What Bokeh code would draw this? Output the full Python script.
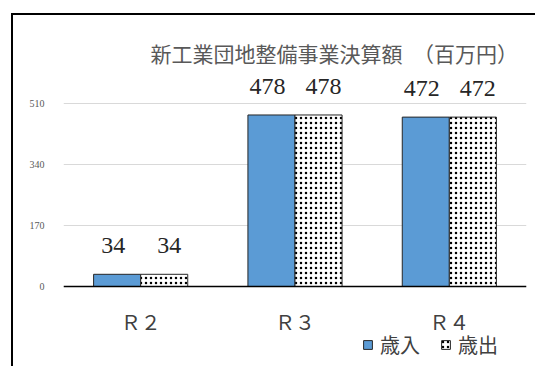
from bokeh.plotting import figure
from bokeh.models import ColumnDataSource, FactorRange, Range1d, FixedTicker, Legend, LegendItem, Span
from bokeh.transform import dodge
from bokeh.embed import file_html
from bokeh.resources import INLINE
from bokeh.core.properties import value

categories = ["Ｒ２", "Ｒ３", "Ｒ４"]
revenue = [34, 478, 472]       # 歳入
expenditure = [34, 478, 472]   # 歳出
series_names = ["歳入", "歳出"]
y_ticks = [0, 170, 340, 510]
title_text = "新工業団地整備事業決算額　（百万円）"

src = ColumnDataSource(dict(
    cat=categories, rev=revenue, exp=expenditure, base=[0] * len(categories),
    rev_lbl=[str(v) for v in revenue], exp_lbl=[str(v) for v in expenditure]))

# frame spans from just under the title down to the bottom edge; value 0 sits at the baseline
p = figure(x_range=FactorRange(factors=categories, range_padding=0),
           y_range=Range1d(-228.5, 607.5),
           width=524, height=353, output_backend="svg", toolbar_location=None,
           title=title_text, x_axis_location=None,
           min_border_left=50, min_border_right=11, min_border_top=53, min_border_bottom=0)
p.styles = {"border-left": "2px solid black", "border-top": "2px solid black",
            "border-right": "0px none", "border-bottom": "0px none"}
p.margin = (13, 0, 0, 11)

bw = 0.305
r1 = p.vbar(x=dodge("cat", -bw / 2, range=p.x_range), top="rev", width=bw, source=src,
            fill_color="#5b9bd5", line_color="#262626", line_width=1)
r2 = p.vbar(x=dodge("cat", bw / 2, range=p.x_range), top="exp", width=bw, source=src,
            fill_color="white", line_color="#262626", line_width=1,
            hatch_pattern=".", hatch_color="black", hatch_scale=5, hatch_weight=1.6)

for col, lbl, off, xo in (("rev", "rev_lbl", -bw / 2, -4), ("exp", "exp_lbl", bw / 2, 5)):
    p.text(x=dodge("cat", off, range=p.x_range), y=col, text=lbl, source=src,
           text_align="center", text_baseline="bottom", y_offset=-21, x_offset=xo,
           text_font=value("Liberation Serif"), text_font_size="24px", text_color="#262626")

# category labels under the baseline
p.text(x="cat", y="base", text="cat", source=src, text_align="center", text_baseline="middle",
       y_offset=35, text_font=value("Noto Sans CJK JP"), text_font_size="20px",
       text_color="#404040")

# baseline (category axis line)
p.add_layout(Span(location=0, dimension="width", line_color="black", line_width=1.5))

p.title.text_font = "Noto Sans CJK JP"
p.title.text_font_size = "21px"
p.title.text_font_style = "normal"
p.title.text_color = "#595959"
p.title.align = "left"
p.title.offset = 87
p.title.standoff = 1

p.outline_line_color = None
p.xgrid.grid_line_color = None
p.ygrid.ticker = FixedTicker(ticks=y_ticks)
p.ygrid.grid_line_color = "#d9d9d9"
p.ygrid.grid_line_width = 1

p.yaxis.ticker = FixedTicker(ticks=y_ticks)
p.yaxis.axis_line_color = None
p.yaxis.major_tick_line_color = None
p.yaxis.minor_tick_line_color = None
p.yaxis.major_label_text_font = "Liberation Serif"
p.yaxis.major_label_text_font_size = "10px"
p.yaxis.major_label_text_color = "#595959"
p.yaxis.major_label_standoff = 13

legend = Legend(items=[LegendItem(label=series_names[0], renderers=[r1]),
                       LegendItem(label=series_names[1], renderers=[r2])],
                orientation="horizontal", location=(299, 9),
                border_line_color=None, background_fill_alpha=0,
                padding=0, margin=0, spacing=20, glyph_width=11, glyph_height=11,
                label_standoff=7, label_text_font="Noto Sans CJK JP",
                label_text_font_size="20px", label_text_color="#404040")
p.add_layout(legend)

open("out.html", "w").write(file_html(p, INLINE))
